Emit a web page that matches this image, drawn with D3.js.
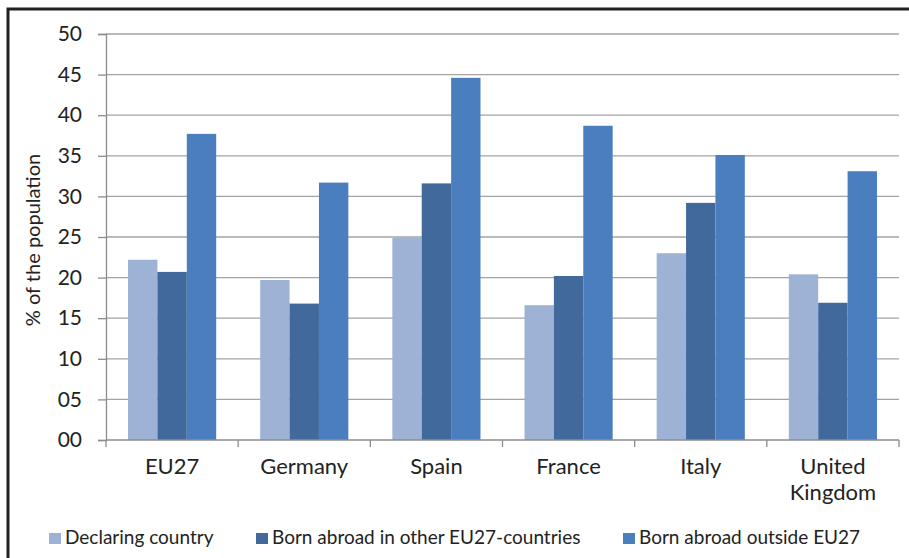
<!doctype html>
<html>
<head>
<meta charset="utf-8">
<title>Population by country of birth</title>
<script src="https://d3js.org/d3.v7.min.js"></script>
<style>
  body { margin: 0; background: #fff; }
  text { font-family: Lato, "Open Sans", sans-serif; fill: #222; }
</style>
</head>
<body>
<script>
// data
const countries = ["EU27", "Germany", "Spain", "France", "Italy", "United Kingdom"];
const seriesNames = ["Declaring country", "Born abroad in other EU27-countries", "Born abroad outside EU27"];
const declaring = [22.2, 19.7, 24.9, 16.6, 23.0, 20.4];
const otherEU = [20.7, 16.8, 31.6, 20.2, 29.2, 16.9];
const outsideEU = [37.7, 31.7, 44.6, 38.7, 35.1, 33.1];
const yTicks = [0, 5, 10, 15, 20, 25, 30, 35, 40, 45, 50];
const colors = ["#9db2d4", "#41699c", "#4a7ebe"];

const w = 909, h = 558;
const plotL = 106, plotR = 899, plotT = 34, plotB = 440;

const svg = d3.select("body").append("svg")
  .attr("width", w)
  .attr("height", h);

// frame (top + left edge only show in the picture)
svg.append("path")
  .attr("d", `M8,${h} V9 H${w}`)
  .attr("fill", "none")
  .attr("stroke", "#222")
  .attr("stroke-width", 3);

const x0 = d3.scaleBand().domain(countries).range([plotL, plotR]).paddingInner(0.333).paddingOuter(0.1667);
const x1 = d3.scaleBand().domain(d3.range(3)).range([0, x0.bandwidth()]);
const y = d3.scaleLinear().domain([0, 50]).range([plotB, plotT]);

// gridlines
svg.append("g")
  .selectAll("line")
  .data(yTicks.slice(1))
  .join("line")
  .attr("x1", plotL).attr("x2", plotR)
  .attr("y1", d => y(d)).attr("y2", d => y(d))
  .attr("stroke", "#a3a3a3")
  .attr("stroke-width", 1.3);

// y axis
const yAxis = svg.append("g")
  .attr("transform", `translate(${plotL},0)`)
  .call(d3.axisLeft(y).tickValues(yTicks).tickSize(8).tickPadding(16).tickFormat(d3.format("02d")));
yAxis.select(".domain").attr("stroke", "#8c8c8c").attr("stroke-width", 1.3);
yAxis.selectAll(".tick line").attr("stroke", "#8c8c8c").attr("stroke-width", 1.3);
yAxis.selectAll("text").attr("font-size", 21).attr("fill", "#222").style("font-family", "Lato, sans-serif");

// bars
const groups = svg.append("g")
  .selectAll("g")
  .data(countries.map((c, i) => ({ c, v: [declaring[i], otherEU[i], outsideEU[i]] })))
  .join("g")
  .attr("transform", d => `translate(${x0(d.c)},0)`);

groups.selectAll("rect")
  .data(d => d.v)
  .join("rect")
  .attr("x", (d, i) => x1(i))
  .attr("width", x1.bandwidth())
  .attr("y", d => y(d))
  .attr("height", d => y(0) - y(d))
  .attr("fill", (d, i) => colors[i]);

// x axis with ticks at category boundaries
const xb = d3.scaleBand().domain(countries).range([plotL, plotR]);
svg.append("line")
  .attr("x1", plotL).attr("x2", plotR)
  .attr("y1", plotB).attr("y2", plotB)
  .attr("stroke", "#8c8c8c").attr("stroke-width", 1.3);
svg.append("g")
  .selectAll("line")
  .data(countries.concat(["end"]))
  .join("line")
  .attr("x1", (d, i) => plotL + i * xb.step())
  .attr("x2", (d, i) => plotL + i * xb.step())
  .attr("y1", plotB).attr("y2", plotB + 7)
  .attr("stroke", "#8c8c8c").attr("stroke-width", 1.3);

const xLabels = svg.append("g")
  .selectAll("text")
  .data(countries)
  .join("text")
  .attr("text-anchor", "middle")
  .attr("x", d => xb(d) + xb.bandwidth() / 2)
  .attr("y", 474)
  .attr("font-size", 22);
xLabels.each(function(d) {
  const parts = d === "United Kingdom" ? ["United", "Kingdom"] : [d];
  d3.select(this).selectAll("tspan")
    .data(parts)
    .join("tspan")
    .attr("x", xb(d) + xb.bandwidth() / 2)
    .attr("dy", (p, i) => i ? 26 : 0)
    .text(p => p);
});

// y label
svg.append("text")
  .attr("transform", `translate(40,${(plotT + plotB) / 2 + 3}) rotate(-90)`)
  .attr("text-anchor", "middle")
  .attr("font-size", 20)
  .text("% of the population");

// legend
const legendX = [49, 256, 623];
const legend = svg.append("g")
  .selectAll("g")
  .data(seriesNames)
  .join("g")
  .attr("transform", (d, i) => `translate(${legendX[i]},533)`);
legend.append("rect")
  .attr("width", 12).attr("height", 11)
  .attr("fill", (d, i) => colors[i]);
legend.append("text")
  .attr("x", 16).attr("y", 11)
  .attr("font-size", 19)
  .text(d => d);
</script>
</body>
</html>
